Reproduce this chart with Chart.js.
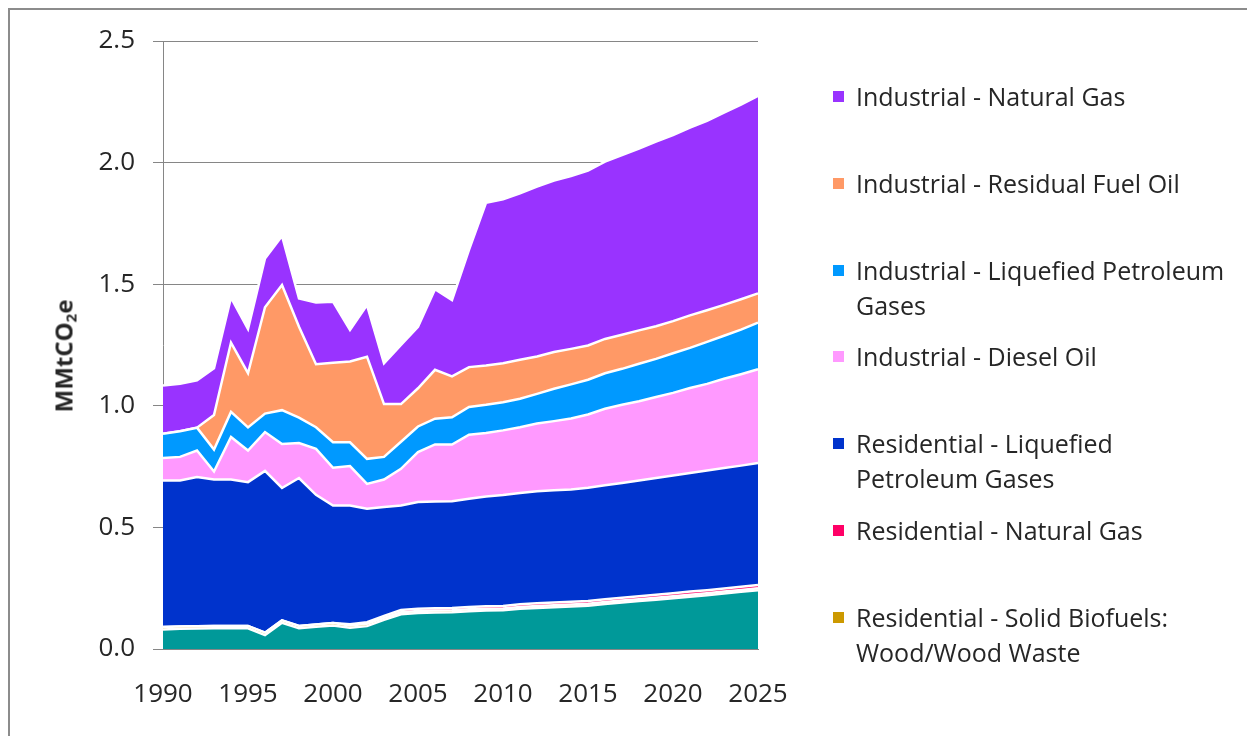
<!DOCTYPE html>
<html>
<head>
<meta charset="utf-8">
<script src="https://cdn.jsdelivr.net/npm/chart.js@4.4.1/dist/chart.umd.min.js"></script>
<style>
  body { margin: 0; background: #fff; }
  #wrap { position: relative; width: 1247px; height: 736px; overflow: hidden; font-family: 'Open Sans', sans-serif; color: #262626; }
  #frame { position: absolute; left: 8px; top: 8px; width: 1300px; height: 800px; border: 2px solid #8c8c8c; box-sizing: border-box; }
  #chart { position: absolute; left: 0; top: 0; }
  #ytitle { position: absolute; left: 63px; top: 356px; transform: translate(-50%, -50%) rotate(-90deg); font-weight: 700; font-size: 24px; white-space: nowrap; }
  #ytitle sub { font-size: 15px; vertical-align: -4px; line-height: 0; }
  #legend { position: absolute; left: 833px; top: 79px; }
  .item { position: relative; height: 86.83px; }
  .swatch { position: absolute; left: 0; top: 12px; width: 11px; height: 11px; }
  .label { position: absolute; left: 23px; top: 0; width: 378px; font-size: 25px; line-height: 35px; }
</style>
</head>
<body>
<div id="wrap">
  <div id="frame"></div>
  <canvas id="chart" width="1247" height="736"></canvas>
  <div id="ytitle">MMtCO<sub>2</sub>e</div>
  <div id="legend"></div>
</div>
<script>
/* ==========================================================
   DATA (MMtCO2e, stacked from the bottom up)
   ========================================================== */
const years = ['1990','1991','1992','1993','1994','1995','1996','1997','1998','1999',
               '2000','2001','2002','2003','2004','2005','2006','2007','2008','2009',
               '2010','2011','2012','2013','2014','2015','2016','2017','2018','2019',
               '2020','2021','2022','2023','2024','2025'];

// bottom teal layer (not named in the visible legend)
const otherBase = [0.080,0.083,0.084,0.085,0.085,0.085,0.057,0.108,0.085,0.091,
                   0.097,0.087,0.094,0.120,0.143,0.148,0.150,0.151,0.155,0.158,
                   0.159,0.165,0.169,0.172,0.175,0.178,0.185,0.191,0.197,0.203,
                   0.209,0.215,0.221,0.228,0.235,0.242];
const resSolidBiofuels = [0.010,0.010,0.010,0.010,0.010,0.010,0.010,0.010,0.010,0.010,
                          0.010,0.010,0.010,0.008,0.008,0.008,0.008,0.008,0.008,0.008,
                          0.008,0.008,0.008,0.008,0.008,0.008,0.008,0.008,0.008,0.008,
                          0.008,0.008,0.008,0.008,0.008,0.008];
const resNaturalGas = [0,0,0,0,0,0,0,0,0,0,
                       0,0.005,0.006,0.008,0.009,0.010,0.010,0.010,0.010,0.010,
                       0.010,0.011,0.011,0.011,0.011,0.011,0.012,0.012,0.012,0.012,
                       0.012,0.013,0.013,0.013,0.013,0.013];
const resLPG = [0.603,0.600,0.613,0.602,0.602,0.591,0.665,0.544,0.608,0.533,
                0.483,0.488,0.467,0.448,0.430,0.438,0.439,0.439,0.445,0.451,
                0.456,0.457,0.461,0.462,0.462,0.466,0.468,0.472,0.476,0.480,
                0.484,0.488,0.492,0.495,0.498,0.502];
const indDiesel = [0.092,0.097,0.109,0.033,0.175,0.130,0.160,0.181,0.144,0.189,
                   0.155,0.162,0.102,0.113,0.151,0.206,0.234,0.233,0.263,0.261,
                   0.266,0.271,0.278,0.284,0.292,0.301,0.315,0.321,0.326,0.333,
                   0.340,0.349,0.356,0.367,0.376,0.385];
const indLPG = [0.100,0.105,0.094,0.090,0.103,0.095,0.076,0.139,0.104,0.089,
                0.105,0.098,0.103,0.093,0.111,0.105,0.106,0.112,0.114,0.116,
                0.116,0.117,0.122,0.133,0.140,0.143,0.146,0.148,0.154,0.157,
                0.163,0.165,0.173,0.177,0.183,0.192];
const indResidualOil = [0,0,0,0.142,0.285,0.223,0.437,0.515,0.374,0.259,
                        0.327,0.332,0.420,0.217,0.155,0.157,0.201,0.168,0.164,0.162,
                        0.160,0.160,0.154,0.151,0.146,0.141,0.141,0.140,0.137,0.134,
                        0.132,0.134,0.130,0.127,0.125,0.120];
const indNaturalGas = [0.198,0.196,0.195,0.192,0.185,0.182,0.201,0.201,0.116,0.254,
                       0.251,0.130,0.212,0.168,0.243,0.253,0.331,0.314,0.482,0.669,
                       0.674,0.685,0.698,0.705,0.711,0.719,0.729,0.739,0.748,0.759,
                       0.765,0.772,0.779,0.790,0.800,0.812];

const textColor = '#262626';
const axisGray = '#868686';
const tickFont = { family: 'Open Sans', size: 26 };

function layer(label, data, color, fill) {
    return { label: label, data: data, backgroundColor: color, borderColor: '#ffffff',
             borderWidth: 2.5, pointRadius: 0, pointHoverRadius: 0, tension: 0, fill: fill };
}

/* ==========================================================
   CHART
   ========================================================== */
const ctx = document.getElementById('chart').getContext('2d');
const chart = new Chart(ctx, {
    type: 'line',
    data: {
        labels: years,
        datasets: [
            layer('', otherBase, '#009999', 'origin'),
            layer('Residential - Solid Biofuels: Wood/Wood Waste', resSolidBiofuels, '#CC9900', '-1'),
            layer('Residential - Natural Gas', resNaturalGas, '#FF0066', '-1'),
            layer('Residential - Liquefied Petroleum Gases', resLPG, '#0033CC', '-1'),
            layer('Industrial - Diesel Oil', indDiesel, '#FF99FF', '-1'),
            layer('Industrial - Liquefied Petroleum Gases', indLPG, '#0099FF', '-1'),
            layer('Industrial - Residual Fuel Oil', indResidualOil, '#FF9966', '-1'),
            layer('Industrial - Natural Gas', indNaturalGas, '#9933FF', '-1')
        ]
    },
    options: {
        responsive: false,
        animation: false,
        layout: { padding: { top: 41, right: 489, bottom: 0, left: 0 } },
        plugins: {
            legend: { display: false },
            tooltip: { mode: 'index', intersect: false }
        },
        scales: {
            x: {
                grid: { display: false, drawTicks: false },
                border: { color: axisGray, width: 1 },
                ticks: {
                    autoSkip: false, maxRotation: 0, padding: 30,
                    color: textColor, font: tickFont,
                    callback: function(v, i) { return Number(years[i]) % 5 === 0 ? years[i] : ''; }
                },
                afterFit: function(scale) { scale.height = 87; }
            },
            y: {
                stacked: true,
                min: 0, max: 2.5,
                grid: { color: axisGray, tickLength: 10 },
                border: { color: axisGray, width: 1 },
                ticks: {
                    stepSize: 0.5, padding: 18,
                    color: textColor, font: tickFont,
                    callback: function(v) { return v.toFixed(1); }
                },
                afterFit: function(scale) { scale.width = 163; }
            }
        }
    }
});

/* ==========================================================
   LEGEND (top series first, wrapped like the original)
   ========================================================== */
const legend = document.getElementById('legend');
chart.data.datasets.slice().reverse().forEach(ds => {
    if (!ds.label) return;
    const item = document.createElement('div');
    item.className = 'item';
    const sw = document.createElement('span');
    sw.className = 'swatch';
    sw.style.background = ds.backgroundColor;
    const lab = document.createElement('div');
    lab.className = 'label';
    lab.textContent = ds.label;
    item.appendChild(sw);
    item.appendChild(lab);
    legend.appendChild(item);
});
</script>
</body>
</html>
